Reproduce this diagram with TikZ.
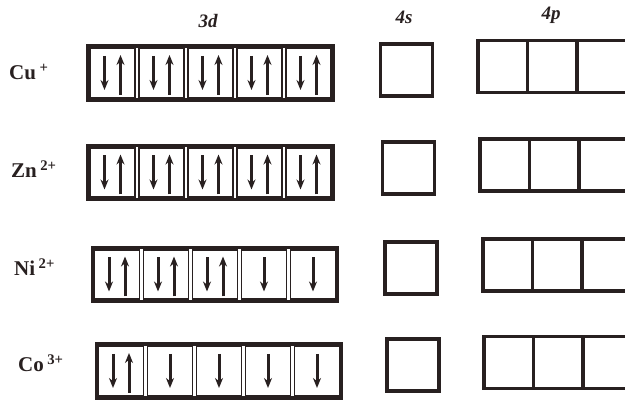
\documentclass[tikz,border=0pt]{standalone}
\usepackage{fontspec}
\setmainfont{Liberation Serif}
\usetikzlibrary{arrows.meta}
\definecolor{ink}{RGB}{40,32,32}
\begin{document}
\begin{tikzpicture}[x=1pt,y=-1pt,
  frame/.style={draw=ink,line width=3.4pt,minimum width=245pt,minimum height=54pt,inner sep=0pt},
  cell/.style={draw=ink,line width=1.8pt,minimum width=45pt,minimum height=49pt,inner sep=0pt},
  obox/.style={draw=ink,line width=3.4pt,minimum width=52pt,minimum height=52pt,inner sep=0pt},
  pcell/.style={draw=ink,line width=3.4pt,minimum width=49.5pt,minimum height=52pt,inner sep=0pt},
  el/.style={draw=ink,line width=3pt,-{Stealth[length=10pt,width=8pt]}},
  lab/.style={text=ink,font=\fontsize{21}{24}\selectfont\bfseries,inner sep=0pt,anchor=west},
  head/.style={text=ink,font=\fontsize{19}{22}\selectfont\bfseries\itshape,inner sep=0pt}]
\clip (0,0) rectangle (625,401);
\useasboundingbox (0,0) rectangle (625,401);
\fill[white] (0,0) rectangle (625,401);
% headers
\node[head] (h3d) at (208,21) {3d};
\node[head] (h4s) at (404,17) {4s};
\node[head] (h4p) at (551,15) {4p};
% ion labels
\node[lab] (lcu) at (9,72) {Cu\,\textsuperscript{+}};
\node[lab] (lzn) at (11,169) {Zn\,\textsuperscript{2+}};
\node[lab] (lni) at (14,267) {Ni\,\textsuperscript{2+}};
\node[lab] (lco) at (18,363) {Co\,\textsuperscript{3+}};
% 3d boxes
\foreach \n/\cx/\cy in {cu/210.5/73, zn/210.5/172.5, ni/215/274.5, co/219/371}{
  \node[frame] (\n-d) at (\cx,\cy) {};
  \foreach \i in {1,...,5}
    \node[cell] (\n\i) at ({\cx+(\i-3)*49},\cy) {};
}
% 4s boxes
\node[obox] (cu-s) at (406.5,70) {};
\node[obox] (zn-s) at (408.5,168) {};
\node[obox] (ni-s) at (411,268) {};
\node[obox] (co-s) at (413,365) {};
% 4p boxes
\foreach \n/\lx/\cy in {cu/478/66.5, zn/480/165, ni/483/265, co/484/362.5}{
  \foreach \i in {1,2,3}
    \node[pcell] (\n-p\i) at ({\lx+(\i-0.5)*49.5},\cy) {};
}
% paired electrons
\foreach \c in {cu1,cu2,cu3,cu4,cu5,zn1,zn2,zn3,zn4,zn5,ni1,ni2,ni3,co1}{
  \draw[el] ([xshift=-8pt,yshift=17pt]\c.center) -- ([xshift=-8pt,yshift=-17pt]\c.center);
  \draw[el] ([xshift=8pt,yshift=-22pt]\c.center) -- ([xshift=8pt,yshift=18pt]\c.center);
}
% single electrons
\foreach \c in {ni4,ni5,co2,co3,co4,co5}{
  \draw[el] ([yshift=17pt]\c.center) -- ([yshift=-17pt]\c.center);
}
\end{tikzpicture}
\end{document}
